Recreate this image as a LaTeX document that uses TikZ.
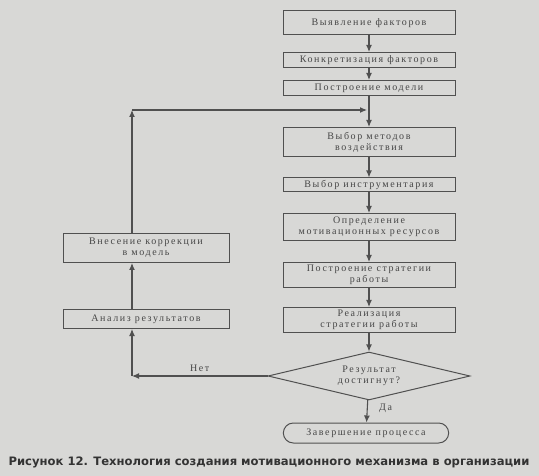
\documentclass[tikz,border=0pt]{standalone}
\usepackage{fontspec}
\setmainfont{Liberation Serif}[LetterSpace=16]
\newfontfamily\capfont{DejaVu Sans}
\usepackage{tikz}
\usetikzlibrary{arrows.meta,positioning,shapes.geometric,shapes.misc}
\definecolor{PaperGray}{RGB}{216,216,214}
\definecolor{InkGray}{RGB}{80,80,80}
\definecolor{TextGray}{RGB}{70,70,70}

\begin{document}
\begin{tikzpicture}[x=1pt,y=-1pt,
    every node/.style={font=\fontsize{10}{11}\selectfont,text=TextGray},
    blk/.style={draw=InkGray,line width=1pt,minimum width=172pt,align=center,inner sep=1pt},
    sideblk/.style={blk,minimum width=166pt},
    arr/.style={draw=InkGray,line width=1.1pt,-{Latex[length=7pt,width=6pt]}},
    ln/.style={draw=InkGray,line width=1.1pt}]
    \fill[PaperGray] (0,0) rectangle (539,476);
    \useasboundingbox (0,0) rectangle (539,476);
    \node[blk,minimum height=24pt] (fac) at (369,23) {Выявление факторов};
    \node[blk,minimum height=15pt] (conc) at (369,60) {Конкретизация факторов};
    \node[blk,minimum height=15pt] (model) at (369,88) {Построение модели};
    \node[blk,minimum height=29pt] (meth) at (369,142) {Выбор методов\\воздействия};
    \node[blk,minimum height=14pt] (tools) at (369,185) {Выбор инструментария};
    \node[blk,minimum height=27pt] (res) at (369,227) {Определение\\мотивационных ресурсов};
    \node[blk,minimum height=25pt] (strat) at (369,275) {Построение стратегии\\работы};
    \node[blk,minimum height=25pt] (impl) at (369,320) {Реализация\\стратегии работы};
    \node[draw=InkGray,line width=1pt,diamond,aspect=4.2,minimum width=202pt,minimum height=48pt,inner sep=0pt,align=center] (dec) at (369,376) {Результат\\достигнут?};
    \node[draw=InkGray,line width=1pt,rounded rectangle,minimum width=172pt,minimum height=20pt] (fin) at (366,433) {Завершение процесса};
    \node[sideblk,minimum height=29pt] (corr) at (146,248) {Внесение коррекции\\в модель};
    \node[sideblk,minimum height=19pt] (anal) at (146,319) {Анализ результатов};
    \node[font=\capfont\bfseries\fontsize{11.6}{13}\selectfont,text=black!80] (cap) at (269,462) {Рисунок 12. Технология создания мотивационного механизма в организации};
    \coordinate (nocorner) at (132,376);
    \coordinate (upcorner) at (132,110);
    \coordinate (join) at (367,110);
    \draw[arr] (fac) -- (conc);
    \draw[arr] (conc) -- (model);
    \draw[arr] (model) -- (meth);
    \draw[arr] (meth) -- (tools);
    \draw[arr] (tools) -- (res);
    \draw[arr] (res) -- (strat);
    \draw[arr] (strat) -- (impl);
    \draw[arr] (impl) -- (dec);
    \draw[arr] (dec) -- node[right=8pt,pos=0.35]{Да} (fin);
    \draw[arr] (dec.west) -- node[above=1pt,pos=0.5]{Нет} (nocorner);
    \draw[arr] (nocorner) -- (nocorner |- anal.south);
    \draw[arr] (upcorner |- anal.north) -- (upcorner |- corr.south);
    \draw[arr] (upcorner |- corr.north) -- (upcorner);
    \draw[arr] (upcorner) -- (join);
\end{tikzpicture}
\end{document}
